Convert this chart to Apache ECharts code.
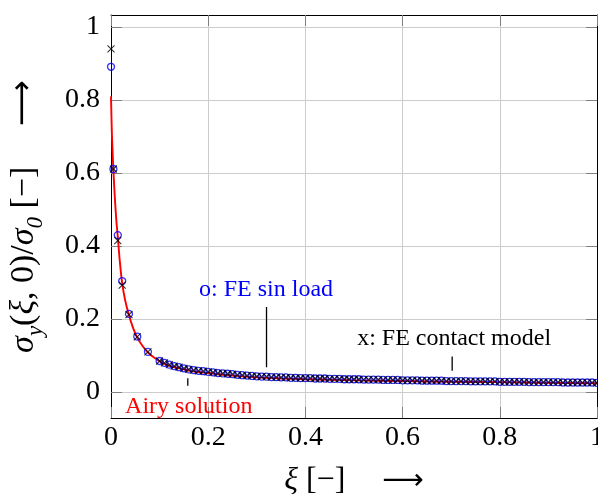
<!DOCTYPE html>
<html>
<head>
<meta charset="utf-8">
<script src="https://cdn.jsdelivr.net/npm/echarts@6/dist/echarts.min.js"></script>
<style>
html,body{margin:0;padding:0;background:#fff;}
#chart{width:598px;height:494px;}
</style>
</head>
<body>
<div id="chart"></div>
<script>
// ---- data ----
var xTicks = [0, 0.2, 0.4, 0.6, 0.8, 1];
var yTicks = [0, 0.2, 0.4, 0.6, 0.8, 1];

var airyXi  = [0, 0.001, 0.002, 0.004, 0.005, 0.008, 0.011, 0.014, 0.018, 0.023, 0.029, 0.037, 0.045, 0.054, 0.065, 0.076, 0.09, 0.104, 0.12, 0.14, 0.16, 0.18, 0.2, 0.25, 0.3, 0.35, 0.4, 0.5, 0.6, 0.7, 0.8, 0.9, 1.0];
var airyVal = [0.81, 0.75, 0.70, 0.635, 0.605, 0.53, 0.47, 0.425, 0.36, 0.298, 0.252, 0.21, 0.177, 0.149, 0.126, 0.108, 0.093, 0.081, 0.072, 0.065, 0.059, 0.055, 0.052, 0.045, 0.040, 0.037, 0.035, 0.032, 0.030, 0.028, 0.027, 0.025, 0.024];

var feXi = [0, 0.005, 0.014, 0.023, 0.037, 0.054, 0.076,
  0.10, 0.11, 0.12, 0.13, 0.14, 0.15, 0.16, 0.17, 0.18, 0.19,
  0.20, 0.21, 0.22, 0.23, 0.24, 0.25, 0.26, 0.27, 0.28, 0.29,
  0.30, 0.31, 0.32, 0.33, 0.34, 0.35, 0.36, 0.37, 0.38, 0.39,
  0.40, 0.41, 0.42, 0.43, 0.44, 0.45, 0.46, 0.47, 0.48, 0.49,
  0.50, 0.51, 0.52, 0.53, 0.54, 0.55, 0.56, 0.57, 0.58, 0.59,
  0.60, 0.61, 0.62, 0.63, 0.64, 0.65, 0.66, 0.67, 0.68, 0.69,
  0.70, 0.71, 0.72, 0.73, 0.74, 0.75, 0.76, 0.77, 0.78, 0.79,
  0.80, 0.81, 0.82, 0.83, 0.84, 0.85, 0.86, 0.87, 0.88, 0.89,
  0.90, 0.91, 0.92, 0.93, 0.94, 0.95, 0.96, 0.97, 0.98, 0.99, 1.00];

var feSin = [0.891, 0.611, 0.430, 0.304, 0.214, 0.152, 0.110,
  0.085, 0.080, 0.075, 0.071, 0.068, 0.065, 0.062, 0.060, 0.058, 0.057,
  0.055, 0.054, 0.052, 0.051, 0.050, 0.049, 0.047, 0.046, 0.045, 0.044,
  0.043, 0.042, 0.042, 0.041, 0.041, 0.040, 0.040, 0.039, 0.039, 0.038,
  0.038, 0.038, 0.037, 0.037, 0.037, 0.036, 0.036, 0.036, 0.035, 0.035,
  0.035, 0.035, 0.034, 0.034, 0.034, 0.034, 0.033, 0.033, 0.033, 0.033,
  0.032, 0.032, 0.032, 0.032, 0.031, 0.031, 0.031, 0.031, 0.031, 0.030,
  0.030, 0.030, 0.030, 0.030, 0.029, 0.029, 0.029, 0.029, 0.029, 0.029,
  0.028, 0.028, 0.028, 0.028, 0.028, 0.028, 0.027, 0.027, 0.027, 0.027,
  0.027, 0.027, 0.027, 0.026, 0.026, 0.026, 0.026, 0.026, 0.026, 0.026, 0.025];

var feContact = [0.940, 0.611, 0.415, 0.293, 0.212, 0.151, 0.110,
  0.085, 0.080, 0.075, 0.071, 0.068, 0.065, 0.062, 0.060, 0.058, 0.057,
  0.055, 0.054, 0.052, 0.051, 0.050, 0.049, 0.047, 0.046, 0.045, 0.044,
  0.043, 0.042, 0.042, 0.041, 0.041, 0.040, 0.040, 0.039, 0.039, 0.038,
  0.038, 0.038, 0.037, 0.037, 0.037, 0.036, 0.036, 0.036, 0.035, 0.035,
  0.035, 0.035, 0.034, 0.034, 0.034, 0.034, 0.033, 0.033, 0.033, 0.033,
  0.032, 0.032, 0.032, 0.032, 0.031, 0.031, 0.031, 0.031, 0.031, 0.030,
  0.030, 0.030, 0.030, 0.030, 0.029, 0.029, 0.029, 0.029, 0.029, 0.029,
  0.028, 0.028, 0.028, 0.028, 0.028, 0.028, 0.027, 0.027, 0.027, 0.027,
  0.027, 0.027, 0.027, 0.026, 0.026, 0.026, 0.026, 0.026, 0.026, 0.026, 0.025];

// annotation texts and their pin lines (data coordinates)
var annoText  = ['o: FE sin load', 'x: FE contact model', 'Airy solution'];
var annoColor = ['#0000ff', '#000000', '#ff0000'];
var annoPos   = [[0.319, 0.280], [0.706, 0.146], [0.160, -0.040]];
var pinXi     = [0.320, 0.702, 0.158];
var pinTop    = [0.233, 0.097, 0.038];
var pinBottom = [0.068, 0.058, 0.017];

function zip(a, b) { return a.map(function (v, i) { return [v, b[i]]; }); }

var chart = echarts.init(document.getElementById('chart'), null, {renderer: 'canvas'});
var serif = 'Liberation Serif';
var Y_MIN = -0.0712, Y_MAX = 1.0329;

var pinSeries = pinXi.map(function (x, i) {
  return {
    type: 'line', xAxisIndex: 0, yAxisIndex: 0,
    data: [[x, pinTop[i]], [x, pinBottom[i]]],
    showSymbol: false, symbol: 'none', silent: true,
    lineStyle: {color: '#000', width: 1.3}, z: 5
  };
});

var option = {
  animation: false,
  backgroundColor: '#fff',
  grid: {left: 111, right: 1, top: 15, bottom: 76, containLabel: false, outerBoundsMode: 'none'},
  xAxis: [{
    type: 'value', min: 0, max: 1, interval: 0.2,
    axisLine: {show: true, onZero: false, lineStyle: {color: '#000', width: 1}},
    axisTick: {show: true, inside: true, length: 11, lineStyle: {color: '#808080', width: 1}},
    splitLine: {show: true, lineStyle: {color: '#cccccc', width: 1}},
    axisLabel: {show: true, fontFamily: serif, fontSize: 28, color: '#000', margin: 6,
      alignMinLabel: 'center', alignMaxLabel: 'center',
      formatter: function (v) { return String(+v.toFixed(1)); }},
    name: '{i|ξ}{r| [−]}{a|    ⟶}',
    nameLocation: 'middle', nameGap: 47,
    nameTextStyle: {rich: {
      i: {fontFamily: serif, fontStyle: 'italic', fontSize: 32, color: '#000'},
      r: {fontFamily: serif, fontSize: 32, color: '#000'},
      a: {fontFamily: 'DejaVu Sans', fontSize: 29, color: '#000'}
    }}
  }, {
    type: 'value', min: 0, max: 1, interval: 0.2, position: 'top',
    axisLine: {show: true, onZero: false, lineStyle: {color: '#000', width: 1}},
    axisTick: {show: true, inside: true, length: 11, lineStyle: {color: '#808080', width: 1}},
    splitLine: {show: false}, axisLabel: {show: false}
  }],
  yAxis: [{
    type: 'value', min: Y_MIN, max: Y_MAX,
    axisLine: {show: true, onZero: false, lineStyle: {color: '#000', width: 1}},
    axisTick: {show: true, inside: true, length: 11, customValues: yTicks, lineStyle: {color: '#808080', width: 1}},
    splitLine: {show: true, lineStyle: {color: '#cccccc', width: 1}},
    axisLabel: {show: true, customValues: yTicks, fontFamily: serif, fontSize: 28, color: '#000', margin: 11,
      formatter: function (v) { return String(+v.toFixed(1)); }},
    name: '{i|σ}{s|y}{r|(}{i|ξ}{r|, 0)/}{i|σ}{s|0}{r| [−]}{a|    ⟶}',
    nameLocation: 'middle', nameGap: 64, nameRotate: 90,
    nameTextStyle: {rich: {
      i: {fontFamily: serif, fontStyle: 'italic', fontSize: 34, color: '#000', lineHeight: 46, verticalAlign: 'middle'},
      s: {fontFamily: serif, fontStyle: 'italic', fontSize: 23, color: '#000', lineHeight: 46, verticalAlign: 'bottom'},
      r: {fontFamily: serif, fontSize: 34, color: '#000', lineHeight: 46, verticalAlign: 'middle'},
      a: {fontFamily: 'DejaVu Sans', fontSize: 32, color: '#000', lineHeight: 46, verticalAlign: 'middle'}
    }}
  }, {
    type: 'value', min: Y_MIN, max: Y_MAX, position: 'right',
    axisLine: {show: true, onZero: false, lineStyle: {color: '#000', width: 1}},
    axisTick: {show: true, inside: true, length: 11, customValues: yTicks, lineStyle: {color: '#808080', width: 1}},
    splitLine: {show: false}, axisLabel: {show: false}
  }],
  series: [{
    name: 'Airy solution', type: 'line', xAxisIndex: 0, yAxisIndex: 0,
    data: zip(airyXi, airyVal), smooth: 0.3, showSymbol: false, symbol: 'none',
    lineStyle: {color: '#ff0000', width: 1.9}, z: 2
  }, {
    name: 'FE sin load', type: 'scatter', xAxisIndex: 0, yAxisIndex: 0,
    data: zip(feXi, feSin), symbol: 'circle', symbolSize: 7,
    itemStyle: {color: 'none', borderColor: '#0000ff', borderWidth: 1.3}, z: 3
  }, {
    name: 'FE contact model', type: 'scatter', xAxisIndex: 0, yAxisIndex: 0,
    data: zip(feXi, feContact), symbol: 'path://M0,0L10,10M0,10L10,0', symbolSize: 7,
    itemStyle: {color: 'none', borderColor: '#000', borderWidth: 1.1}, z: 4
  }].concat(pinSeries)
};
chart.setOption(option);

var graphics = annoText.map(function (t, i) {
  var p = chart.convertToPixel({xAxisIndex: 0, yAxisIndex: 0}, annoPos[i]);
  return {
    type: 'text', x: p[0], y: p[1], z: 10,
    style: {text: t, fill: annoColor[i], font: '24px "Liberation Serif"', align: 'center', verticalAlign: 'middle'}
  };
});
chart.setOption({graphic: graphics});
</script>
</body>
</html>
